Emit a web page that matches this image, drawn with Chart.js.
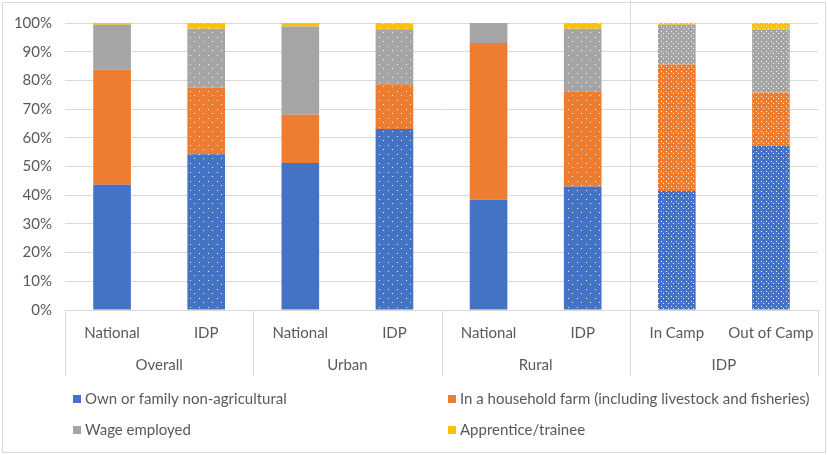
<!DOCTYPE html>
<html>
<head>
<meta charset="utf-8">
<script src="https://cdn.jsdelivr.net/npm/chart.js@4.4.1/dist/chart.umd.min.js"></script>
<style>
  html, body { margin: 0; background: #fff; }
  #wrap { width: 828px; height: 455px; position: relative; }
</style>
</head>
<body>
<div id="wrap"><canvas id="chart"></canvas></div>
<script>
// ---- data ----
const categories = ['National', 'IDP', 'National', 'IDP', 'National', 'IDP', 'In Camp', 'Out of Camp'];
const groups = ['Overall', 'Urban', 'Rural', 'IDP'];
const groupSizes = [2, 2, 2, 2];
const seriesNames = [
  'Own or family non-agricultural',
  'In a household farm (including livestock and fisheries)',
  'Wage employed',
  'Apprentice/trainee'
];
const ownFamily     = [43.6, 54.3, 51.2, 63.1, 38.4, 43.0, 41.5, 57.2];
const householdFarm = [40.1, 23.2, 16.8, 15.6, 54.6, 33.2, 44.0, 18.6];
const wageEmployed  = [15.7, 20.5, 30.8, 19.1,  7.0, 21.8, 13.9, 21.9];
const apprentice    = [ 0.6,  2.0,  1.2,  2.2,  0.0,  2.0,  0.6,  2.3];
const yTicks = [0, 10, 20, 30, 40, 50, 60, 70, 80, 90, 100];

// ---- styling ----
const FONT = 'Lato';
const FSIZE = 15;
const TEXT = '#595959';
const GRID = '#d9d9d9';
const colors = ['#4472C4', '#ED7D31', '#A5A5A5', '#FFC000'];
// IDP bars are dotted; camp bars use a finer dot grid
const dotStep = [0, 9, 0, 9, 0, 9, 5, 5];

const makeDots = (color, step) => {
  const c = document.createElement('canvas');
  c.width = step; c.height = step;
  const g = c.getContext('2d');
  g.fillStyle = color;
  g.fillRect(0, 0, step, step);
  g.fillStyle = 'rgba(255,255,255,0.9)';
  const h = Math.floor(step / 2);
  g.fillRect(1, 1, 1, 1);
  g.fillRect(1 + h, 1 + h, 1, 1);
  return g.createPattern(c, 'repeat');
};

const fills = color => dotStep.map(s => s ? makeDots(color, s) : color);

const seriesData = [ownFamily, householdFarm, wageEmployed, apprentice];

// multi-level category axis, separators and two-column legend
const groupAxis = {
  id: 'groupAxis',
  afterDraw(chart) {
    const { ctx, chartArea: a, scales: { x } } = chart;
    const half = (x.getPixelForValue(1) - x.getPixelForValue(0)) / 2;
    const bounds = [x.getPixelForValue(0) - half];
    let idx = 0;
    groupSizes.forEach(n => { idx += n; bounds.push(x.getPixelForValue(idx - 1) + half); });

    ctx.save();
    ctx.strokeStyle = GRID;
    ctx.lineWidth = 1;
    // outer frame
    ctx.strokeRect(2.5, 2.5, 823, 450);
    bounds.forEach((b, i) => {
      const px = Math.round(b) + 0.5;
      ctx.beginPath();
      ctx.moveTo(px, i === 3 ? 0 : a.bottom);
      ctx.lineTo(px, 376);
      ctx.stroke();
    });

    ctx.fillStyle = TEXT;
    ctx.font = `${FSIZE}px ${FONT}`;
    ctx.textAlign = 'center';
    ctx.textBaseline = 'middle';
    groups.forEach((g, i) => ctx.fillText(g, (bounds[i] + bounds[i + 1]) / 2, 365));

    // legend
    const cols = [73, 448], rows = [399, 430];
    ctx.textAlign = 'left';
    chart.data.datasets.forEach((ds, i) => {
      const lx = cols[i % 2], ly = rows[Math.floor(i / 2)];
      ctx.fillStyle = colors[i];
      ctx.fillRect(lx, ly - 4, 8, 8);
      ctx.fillStyle = TEXT;
      ctx.fillText(ds.label, lx + 12, ly);
    });
    ctx.restore();
  }
};

new Chart(document.getElementById('chart'), {
  type: 'bar',
  data: {
    labels: categories,
    datasets: seriesNames.map((name, i) => ({
      label: name,
      data: seriesData[i],
      backgroundColor: fills(colors[i]),
      borderWidth: 0,
      categoryPercentage: 0.8,
      barPercentage: 0.5
    }))
  },
  options: {
    responsive: true,
    maintainAspectRatio: false,
    animation: false,
    layout: { padding: { left: 5, right: 10, top: 23, bottom: 0 } },
    plugins: {
      legend: { display: false },
      tooltip: { enabled: false }
    },
    scales: {
      x: {
        stacked: true,
        grid: { display: false },
        border: { display: false },
        afterFit: s => { s.height = 145; },
        ticks: {
          color: TEXT,
          font: { family: FONT, size: FSIZE },
          padding: 6,
          maxRotation: 0,
          autoSkip: false
        }
      },
      y: {
        stacked: true,
        min: 0,
        max: 100,
        afterFit: s => { s.width = 60; },
        afterBuildTicks: s => { s.ticks = yTicks.map(v => ({ value: v })); },
        grid: { color: GRID, drawTicks: false },
        border: { display: false },
        ticks: {
          color: TEXT,
          font: { family: FONT, size: FSIZE },
          padding: 13,
          callback: v => v + '%'
        }
      }
    }
  },
  plugins: [groupAxis]
});
</script>
</body>
</html>
